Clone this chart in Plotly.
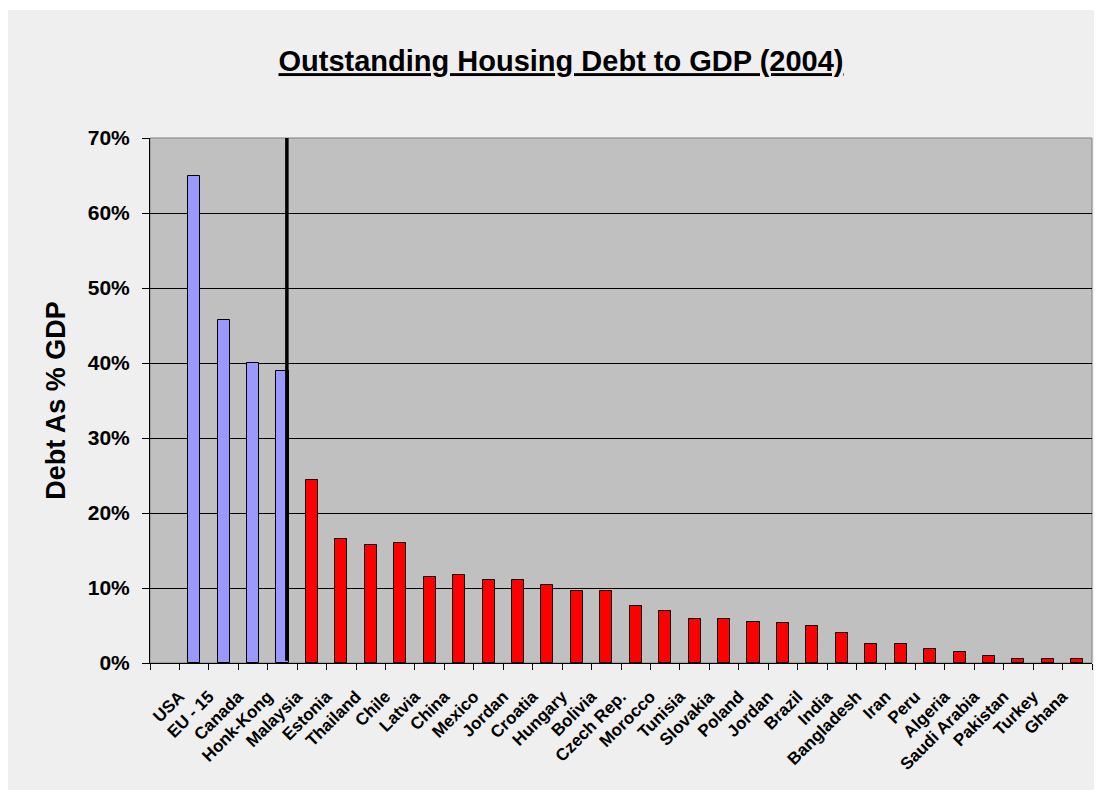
import plotly.graph_objects as go

# ---- data ----
countries = ["USA", "EU - 15", "Canada", "Honk-Kong", "Malaysia", "Estonia", "Thailand",
             "Chile", "Latvia", "China", "Mexico", "Jordan", "Croatia", "Hungary", "Bolivia",
             "Czech Rep.", "Morocco", "Tunisia", "Slovakia", "Poland", "Jordan", "Brazil",
             "India", "Bangladesh", "Iran", "Peru", "Algeria", "Saudi Arabia", "Pakistan",
             "Turkey", "Ghana"]
debt_pct = [65.0, 45.7, 40.0, 39.0, 24.4, 16.6, 15.7,
            16.0, 11.5, 11.7, 11.1, 11.1, 10.4, 9.6, 9.6,
            7.6, 7.0, 5.9, 5.9, 5.5, 5.3, 5.0,
            4.0, 2.5, 2.5, 1.9, 1.5, 0.9, 0.5,
            0.5, 0.5]
n_developed = 4          # first four bars are drawn in blue
y_ticks = [0, 10, 20, 30, 40, 50, 60, 70]

BLUE = "#9999ff"
RED = "#ff0000"
FONT = "Liberation Sans, Arial, sans-serif"

# numeric positions (duplicate category names such as "Jordan" need a numeric axis)
xpos = [i + 1 for i in range(len(countries))]
colors = [BLUE if i < n_developed else RED for i in range(len(countries))]
bar_w = 0.41

# figure is placed by the page at (8, 8); size it to fill the rest of the window
W, H = 1094, 790
ML, MR, MT, MB = 142, 10, 130, 135

fig = go.Figure()
fig.add_trace(go.Bar(
    x=xpos, y=debt_pct, width=bar_w,
    marker=dict(color=colors, line=dict(color="black", width=1)),
    hoverinfo="skip", showlegend=False,
))

# labels sit at the left boundary of each bar's slot, ticks at all boundaries
tickvals = [-0.5] + [x - 0.5 for x in xpos] + [xpos[-1] + 0.5]
ticktext = [""] + countries + [""]

pw = W - ML - MR
ph = H - MT - MB
def px2paper_x(px):
    return (px - ML) / pw
def px2paper_y(py):
    return (H - MB - py) / ph

fig.update_layout(
    width=W, height=H,
    margin=dict(l=ML, r=MR, t=MT, b=MB),
    paper_bgcolor="white",
    plot_bgcolor="rgba(0,0,0,0)",
    bargap=0,
    title=dict(
        text="<b><u>Outstanding Housing Debt to GDP (2004)</u></b>",
        font=dict(family=FONT, size=29, color="black"),
        x=px2paper_x(553), xref="paper", xanchor="center",
        y=1 - 53 / H, yref="container", yanchor="middle",
    ),
    xaxis=dict(
        range=[-0.5, xpos[-1] + 0.5],
        tickmode="array", tickvals=tickvals, ticktext=ticktext,
        tickangle=-45, ticks="outside", ticklen=6, tickcolor="black", tickwidth=1,
        tickfont=dict(family=FONT, size=17, color="black", weight="bold"),
        ticklabelstandoff=10,
        showgrid=False, zeroline=False,
        showline=True, linecolor="black", linewidth=1,
        fixedrange=True,
    ),
    yaxis=dict(
        range=[0, 70],
        tickmode="array", tickvals=y_ticks, ticktext=[f"{v}%" for v in y_ticks],
        ticks="outside", ticklen=7, tickcolor="black", tickwidth=1,
        tickfont=dict(family=FONT, size=21, color="black", weight="bold"),
        ticklabelstandoff=8,
        showgrid=True, gridcolor="black", gridwidth=1,
        zeroline=False,
        showline=True, linecolor="black", linewidth=1,
        title=dict(text="<b>Debt As % GDP</b>",
                   font=dict(family=FONT, size=27, color="black"),
                   standoff=14),
        fixedrange=True,
    ),
    shapes=[
        # light grey chart area
        dict(type="rect", xref="paper", yref="paper", layer="below",
             x0=px2paper_x(0), x1=px2paper_x(1087),
             y0=px2paper_y(782), y1=px2paper_y(2),
             fillcolor="#efefef", line=dict(width=0)),
        # grey plot area
        dict(type="rect", xref="paper", yref="paper", layer="below",
             x0=0, x1=1, y0=0, y1=1,
             fillcolor="#c0c0c0", line=dict(color="#808080", width=1)),
        # separator between developed and emerging markets
        dict(type="line", xref="x", yref="y", layer="above",
             x0=xpos[n_developed - 1] + 0.15, x1=xpos[n_developed - 1] + 0.15,
             y0=0.3, y1=70, line=dict(color="black", width=3.5)),
    ],
)

fig.write_html("out.html")
